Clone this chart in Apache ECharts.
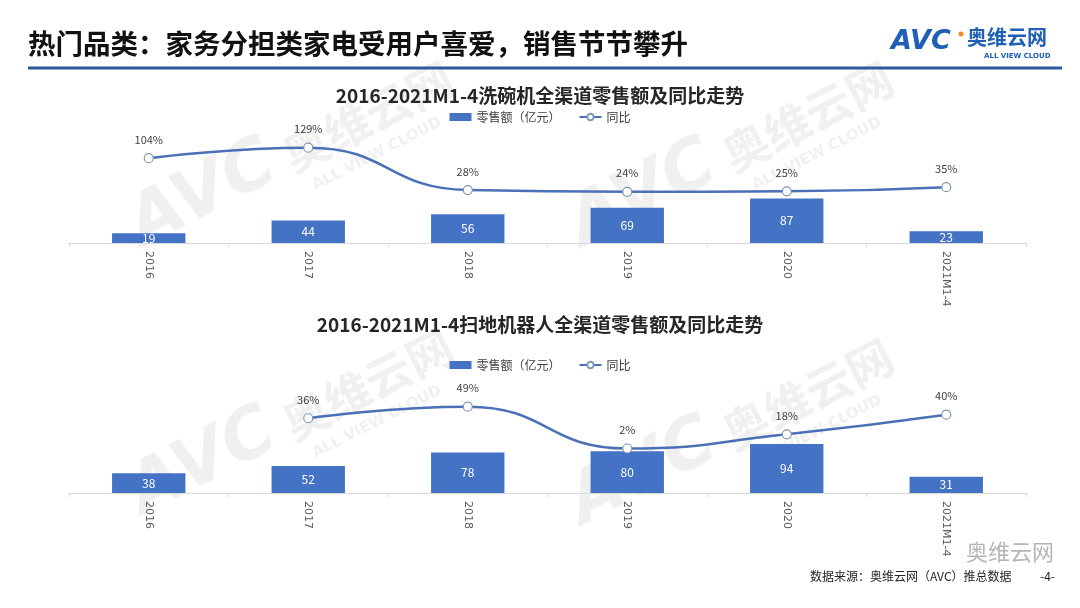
<!DOCTYPE html>
<html>
<head>
<meta charset="utf-8">
<script src="https://cdn.jsdelivr.net/npm/echarts@6/dist/echarts.min.js"></script>
<style>
html,body{margin:0;padding:0;background:#fff;}
#main{width:1080px;height:608px;}
</style>
</head>
<body>
<div id="main"></div>
<script>
// ---- data ----
var categories = ['2016', '2017', '2018', '2019', '2020', '2021M1-4'];
var dishSales = [19, 44, 56, 69, 87, 23];
var dishYoY = [104, 129, 28, 24, 25, 35];
var robotSales = [38, 52, 78, 80, 94, 31];
var robotYoY = [null, 36, 49, 2, 18, 40];
var pageTitle = '热门品类：家务分担类家电受用户喜爱，销售节节攀升';
var chartTitle1 = '2016-2021M1-4洗碗机全渠道零售额及同比走势';
var chartTitle2 = '2016-2021M1-4扫地机器人全渠道零售额及同比走势';
var barName = '零售额（亿元）';
var lineName = '同比';
var sourceText = '数据来源：奥维云网（AVC）推总数据';

var FONT = '"Noto Sans CJK SC", "Noto Sans", sans-serif';
var BAR_COLOR = '#4472C4';
var LINE_COLOR = '#4a70b8';
var WM_COLOR = 'rgba(185,185,185,0.22)';

function wm(x, y) {
  return {
    type: 'group', x: x, y: y, rotation: 0.47, silent: true, z: -1,
    children: [
      { type: 'text', style: { text: 'AVC', x: 0, y: 0, align: 'left', verticalAlign: 'bottom', textVerticalAlign: 'bottom', font: 'italic bold 70px "DejaVu Sans", sans-serif', fill: WM_COLOR } },
      { type: 'text', style: { text: '奥维云网', x: 168, y: -8, align: 'left', verticalAlign: 'bottom', textVerticalAlign: 'bottom', font: 'bold 46px ' + FONT, fill: WM_COLOR } },
      { type: 'text', style: { text: 'ALL VIEW CLOUD', x: 180, y: 14, align: 'left', verticalAlign: 'bottom', textVerticalAlign: 'bottom', font: 'bold 15px "DejaVu Sans", sans-serif', fill: WM_COLOR } }
    ]
  };
}

var chart = echarts.init(document.getElementById('main'));

function xAxisCfg(gi) {
  return {
    type: 'category', gridIndex: gi, data: categories,
    axisLine: { lineStyle: { color: '#d9d9d9' } },
    axisTick: { show: true, alignWithLabel: false, length: 4, lineStyle: { color: '#d9d9d9' } },
    axisLabel: { rotate: -90, color: '#595959', fontSize: 11, margin: 8, fontFamily: '"DejaVu Sans", sans-serif' }
  };
}
function yAxisCfg(gi, min, max) {
  return { type: 'value', gridIndex: gi, min: min, max: max, show: false, splitLine: { show: false } };
}
function barSeries(xi, yi, data) {
  return {
    name: barName, type: 'bar', xAxisIndex: xi, yAxisIndex: yi, data: data,
    barWidth: '46%', itemStyle: { color: BAR_COLOR },
    label: { show: true, position: 'inside', color: '#ffffff', fontSize: 12, fontFamily: FONT }
  };
}
function lineSeries(xi, yi, data) {
  return {
    name: lineName, type: 'line', xAxisIndex: xi, yAxisIndex: yi, data: data,
    smooth: true, symbol: 'circle', symbolSize: 9,
    lineStyle: { color: LINE_COLOR, width: 2.5 },
    itemStyle: { color: '#ffffff', borderColor: '#8497b0', borderWidth: 1.2 },
    label: { show: true, position: 'top', distance: 8, color: '#404040', fontSize: 11, fontFamily: FONT, formatter: '{c}%' },
    z: 5
  };
}
function legendCfg(top) {
  return {
    top: top, left: 'center', itemGap: 18, itemWidth: 22, itemHeight: 8,
    textStyle: { color: '#404040', fontSize: 12, fontFamily: FONT },
    data: [{ name: barName, icon: 'rect' }, { name: lineName }]
  };
}

var option = {
  backgroundColor: '#ffffff',
  animation: false,
  title: [
    { text: chartTitle1, left: 'center', top: 81, textStyle: { fontSize: 19, fontWeight: 'bold', color: '#262626', fontFamily: FONT } },
    { text: chartTitle2, left: 'center', top: 310, textStyle: { fontSize: 19, fontWeight: 'bold', color: '#262626', fontFamily: FONT } }
  ],
  legend: [legendCfg(106), legendCfg(354)],
  grid: [
    { left: 69, right: 54, top: 120, height: 123 },
    { left: 69, right: 54, top: 380, height: 113 }
  ],
  xAxis: [xAxisCfg(0), xAxisCfg(1)],
  yAxis: [yAxisCfg(0, 0, 240), yAxisCfg(0, -98, 195), yAxisCfg(1, 0, 217), yAxisCfg(1, -48, 79)],
  series: [
    barSeries(0, 0, dishSales),
    lineSeries(0, 1, dishYoY),
    barSeries(1, 2, robotSales),
    lineSeries(1, 3, robotYoY)
  ],
  graphic: [
    wm(150, 262), wm(590, 262), wm(150, 530), wm(590, 540),
    { type: 'text', style: { text: pageTitle, x: 28, y: 30, font: 'bold 27.5px ' + FONT, fill: '#111111' } },
    { type: 'line', shape: { x1: 28, y1: 68, x2: 1062, y2: 68 }, style: { stroke: '#2e5a9c', lineWidth: 3 } },
    { type: 'text', style: { text: 'AVC', x: 891, y: 28, font: 'italic bold 27px "DejaVu Sans", sans-serif', fill: '#1f5fb5' } },
    { type: 'circle', shape: { cx: 961, cy: 34, r: 2.5 }, style: { fill: '#f08a24' } },
    { type: 'text', style: { text: '奥维云网', x: 967, y: 27, font: 'bold 20px ' + FONT, fill: '#1f5fb5' } },
    { type: 'text', style: { text: 'ALL VIEW CLOUD', x: 984, y: 53, font: 'bold 7px "DejaVu Sans", sans-serif', fill: '#1f5fb5' } },
    { type: 'text', style: { text: '奥维云网', x: 966, y: 541, font: '22px ' + FONT, fill: 'rgba(120,120,120,0.55)' } },
    { type: 'text', style: { text: sourceText, x: 810, y: 570, font: '12px ' + FONT, fill: '#262626' } },
    { type: 'text', style: { text: '-4-', x: 1040, y: 570, font: '12px ' + FONT, fill: '#262626' } }
  ]
};
chart.setOption(option);
</script>
</body>
</html>
